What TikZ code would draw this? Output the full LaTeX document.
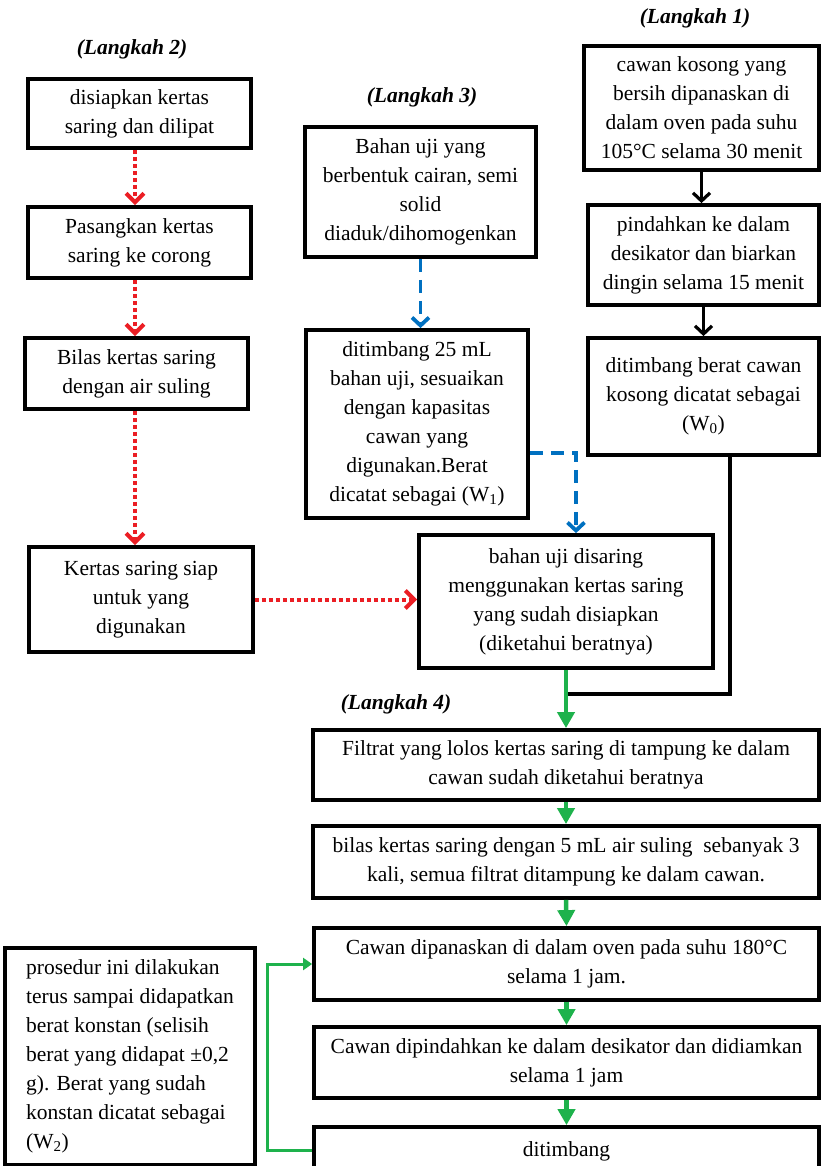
\documentclass[tikz,border=0pt]{standalone}
\usepackage{fontspec}
\setmainfont{Liberation Serif}
\usetikzlibrary{arrows.meta}
\definecolor{flowred}{RGB}{235,30,36}
\definecolor{flowblue}{RGB}{0,112,192}
\definecolor{flowgreen}{RGB}{30,178,76}
\begin{document}
\begin{tikzpicture}[x=1pt,y=-1pt,
  every node/.style={font=\fontsize{21.5}{29}\selectfont},
  bx/.style 2 args={draw, line width=3.8pt, inner sep=0pt, align=center,
    minimum width=#1, minimum height=#2},
  head/.style={font=\fontsize{21.5}{29}\selectfont\bfseries\itshape},
  blkarr/.style={line width=3.2pt, -{Straight Barb[length=8pt,width=17pt]}},
  blkline/.style={line width=3.5pt},
  redarr/.style={flowred, line width=4pt, dash pattern=on 4pt off 3pt,
    -{Straight Barb[length=9pt,width=18pt]}},
  bluearr/.style={flowblue, line width=3.8pt, dash pattern=on 13pt off 8pt,
    -{Straight Barb[length=8pt,width=17pt]}},
  grnarr/.style={flowgreen, line width=4.5pt, -{Triangle[length=16pt,width=17pt]}},
  grnloop/.style={flowgreen, line width=3pt, -{Triangle[length=9pt,width=12pt]}}
]
\useasboundingbox (0,0) rectangle (821,1166);

% step headings
\node[head] (h1) at (695,18) {(Langkah 1)};
\node[head] (h2) at (132,49) {(Langkah 2)};
\node[head] (h3) at (422,97) {(Langkah 3)};
\node[head] (h4) at (396,704) {(Langkah 4)};

% step 1: empty dish
\node[bx={235}{124}] (a1) at (701.5,108)
  {cawan kosong yang\\bersih dipanaskan di\\dalam oven pada suhu\\105°C selama 30 menit};
\node[bx={231}{100}] (a2) at (703.5,255)
  {pindahkan ke dalam\\desikator dan biarkan\\dingin selama 15 menit};
\node[bx={231}{117}] (a3) at (703.5,396.5)
  {ditimbang berat cawan\\kosong dicatat sebagai\\(W\textsubscript{0})};

% step 2: filter paper
\node[bx={223}{69}] (b1) at (139.5,113.5) {disiapkan kertas\\saring dan dilipat};
\node[bx={223}{71}] (b2) at (139.5,242.5) {Pasangkan kertas\\saring ke corong};
\node[bx={223}{71}] (b3) at (136.5,373.5) {Bilas kertas saring\\dengan air suling};
\node[bx={224}{105}] (b4) at (141,599.5) {Kertas saring siap\\untuk yang\\digunakan};

% step 3: sample
\node[bx={231}{130}] (c1) at (420.5,192)
  {Bahan uji yang\\berbentuk cairan, semi\\solid\\diaduk/dihomogenkan};
\node[bx={222}{188}] (c2) at (417,424)
  {ditimbang 25 mL\\bahan uji, sesuaikan\\dengan kapasitas\\cawan yang\\digunakan.Berat\\dicatat sebagai (W\textsubscript{1})};
\node[bx={294}{133}] (c3) at (566,601.5)
  {bahan uji disaring\\menggunakan kertas saring\\yang sudah disiapkan\\(diketahui beratnya)};

% step 4: filtrate
\node[bx={506}{70}] (d1) at (566,765)
  {Filtrat yang lolos kertas saring di tampung ke dalam\\cawan sudah diketahui beratnya};
\node[bx={506}{72}] (d2) at (566,862)
  {bilas kertas saring dengan 5 mL air suling~ sebanyak 3\\kali, semua filtrat ditampung ke dalam cawan.};
\node[bx={505}{72}] (d3) at (566.5,964)
  {Cawan dipanaskan di dalam oven pada suhu 180°C\\selama 1 jam.};
\node[bx={505}{71}] (d4) at (566.5,1062.5)
  {Cawan dipindahkan ke dalam desikator dan didiamkan\\selama 1 jam};
\node[bx={505}{48}] (d5) at (566.5,1151) {ditimbang};

% repeat note
\node[bx={250}{217}, align=left] (n1) at (130,1056.5)
  {prosedur ini dilakukan\\terus sampai didapatkan\\berat konstan (selisih\\berat yang didapat ±0,2\\g). Berat yang sudah\\konstan dicatat sebagai\\(W\textsubscript{2})};

% connectors, step 1
\draw[blkarr] (a1.south) -- (a1.south |- a2.north);
\draw[blkarr] (a2.south) -- (a2.south |- a3.north);
\coordinate (j1) at (730,694);
\coordinate (j2) at (567,694);
\draw[blkline] (a3.south -| j1) -- (j1) -- (j2);

% connectors, step 2
\coordinate (r1) at (135,0);
\draw[redarr] (b1.south -| r1) -- (b2.north -| r1);
\draw[redarr] (b2.south -| r1) -- (b3.north -| r1);
\draw[redarr] (b3.south -| r1) -- (b4.north -| r1);
\draw[redarr] (b4.east) -- (b4.east -| c3.west);

% connectors, step 3
\coordinate (k1) at (576,453);
\draw[bluearr] (c1.south) -- (c1.south |- c2.north);
\draw[bluearr] (c2.east |- k1) -| (c3.north -| k1);

% connectors, step 4
\draw[grnarr] (c3.south) -- (d1.north);
\draw[grnarr] (d1.south) -- (d2.north);
\draw[grnarr] (d2.south) -- (d3.north);
\draw[grnarr] (d3.south) -- (d4.north);
\draw[grnarr] (d4.south) -- (d5.north);
\coordinate (l1) at (267,1150);
\draw[grnloop] (d5.west |- l1) -- (l1) |- (d3.west);
\end{tikzpicture}
\end{document}
